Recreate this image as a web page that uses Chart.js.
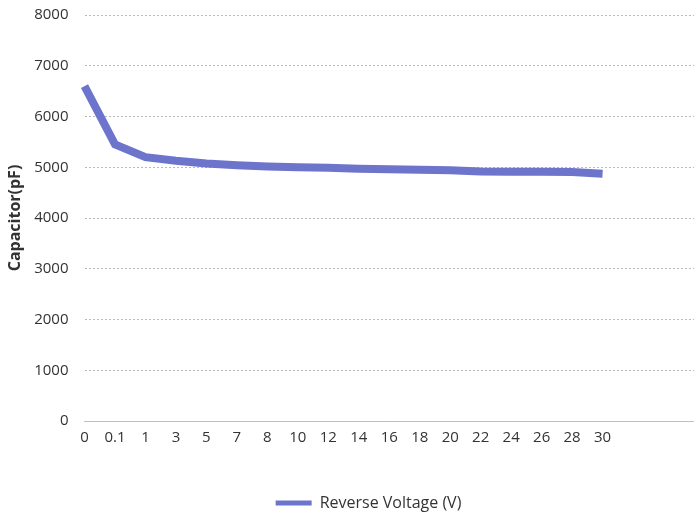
<!DOCTYPE html>
<html>
<head>
<meta charset="utf-8">
<script src="https://cdn.jsdelivr.net/npm/chart.js@4.4.0/dist/chart.umd.min.js"></script>
<style>
  html, body { margin: 0; padding: 0; background: #fff; }
  #wrap { width: 694px; height: 515px; }
</style>
</head>
<body>
<div id="wrap"><canvas id="chart1"></canvas></div>
<script>
// voltages (x categories), three trailing blanks like the original sheet
var voltages = ['0', '0.1', '1', '3', '5', '7', '8', '10', '12', '14', '16', '18', '20', '22', '24', '26', '28', '30', '', '', ''];
var capacitance = [6600, 5450, 5200, 5130, 5075, 5040, 5015, 5000, 4990, 4970, 4960, 4950, 4940, 4915, 4910, 4910, 4905, 4870];
var yTicks = [0, 1000, 2000, 3000, 4000, 5000, 6000, 7000, 8000];

var lineColor = 'rgb(108, 116, 204)';
Chart.defaults.font.family = "'Open Sans', sans-serif";
Chart.defaults.color = '#333';

// legend in the original sits a bit right of centre
var legendShift = {
    id: 'legendShift',
    afterLayout: function (chart) {
        if (chart.legend) chart.legend.left += 32;
    }
};

var ctx1 = document.getElementById('chart1').getContext('2d');
var chart1 = new Chart(ctx1, {
    type: 'line',
    data: {
        labels: voltages,
        datasets: [{
            label: 'Reverse Voltage (V)',
            data: capacitance,
            borderColor: lineColor,
            backgroundColor: lineColor,
            borderWidth: 8,
            pointRadius: 0,
            tension: 0
        }]
    },
    plugins: [legendShift],
    options: {
        responsive: true,
        maintainAspectRatio: false,
        animation: false,
        layout: { padding: { left: 6, top: 15, right: -5, bottom: -6 } },
        plugins: {
            legend: {
                position: 'bottom',
                labels: {
                    boxWidth: 36,
                    boxHeight: 5,
                    font: { size: 16 },
                    padding: 0,
                    generateLabels: function (chart) {
                        var items = Chart.defaults.plugins.legend.labels.generateLabels(chart);
                        items.forEach(function (it) { it.lineWidth = 0; });
                        return items;
                    }
                }
            },
            tooltip: { enabled: false }
        },
        scales: {
            x: {
                offset: false,
                grid: { display: false },
                border: { display: true, color: '#c0c0c0', width: 1 },
                ticks: { maxRotation: 0, autoSkip: false, font: { size: 15 }, padding: 0 },
                afterFit: function (axis) { axis.height += 48; }
            },
            y: {
                min: 0,
                max: 8000,
                afterBuildTicks: function (axis) {
                    axis.ticks = yTicks.map(function (v) { return { value: v }; });
                },
                afterFit: function (axis) {
                    axis.width -= 7;
                    axis.paddingTop = 0;
                    axis.paddingBottom = 0;
                },
                grid: { color: '#b8b8b8', drawTicks: false, lineWidth: 1 },
                border: { display: false, dash: [2, 2] },
                ticks: {
                    font: { size: 15 },
                    padding: 16,
                    callback: function (v) { return String(v); }
                },
                title: {
                    display: true,
                    text: 'Capacitor(pF)',
                    font: { size: 16, weight: 'bold' },
                    padding: { top: 0, bottom: 0 }
                }
            }
        }
    }
});
</script>
</body>
</html>
